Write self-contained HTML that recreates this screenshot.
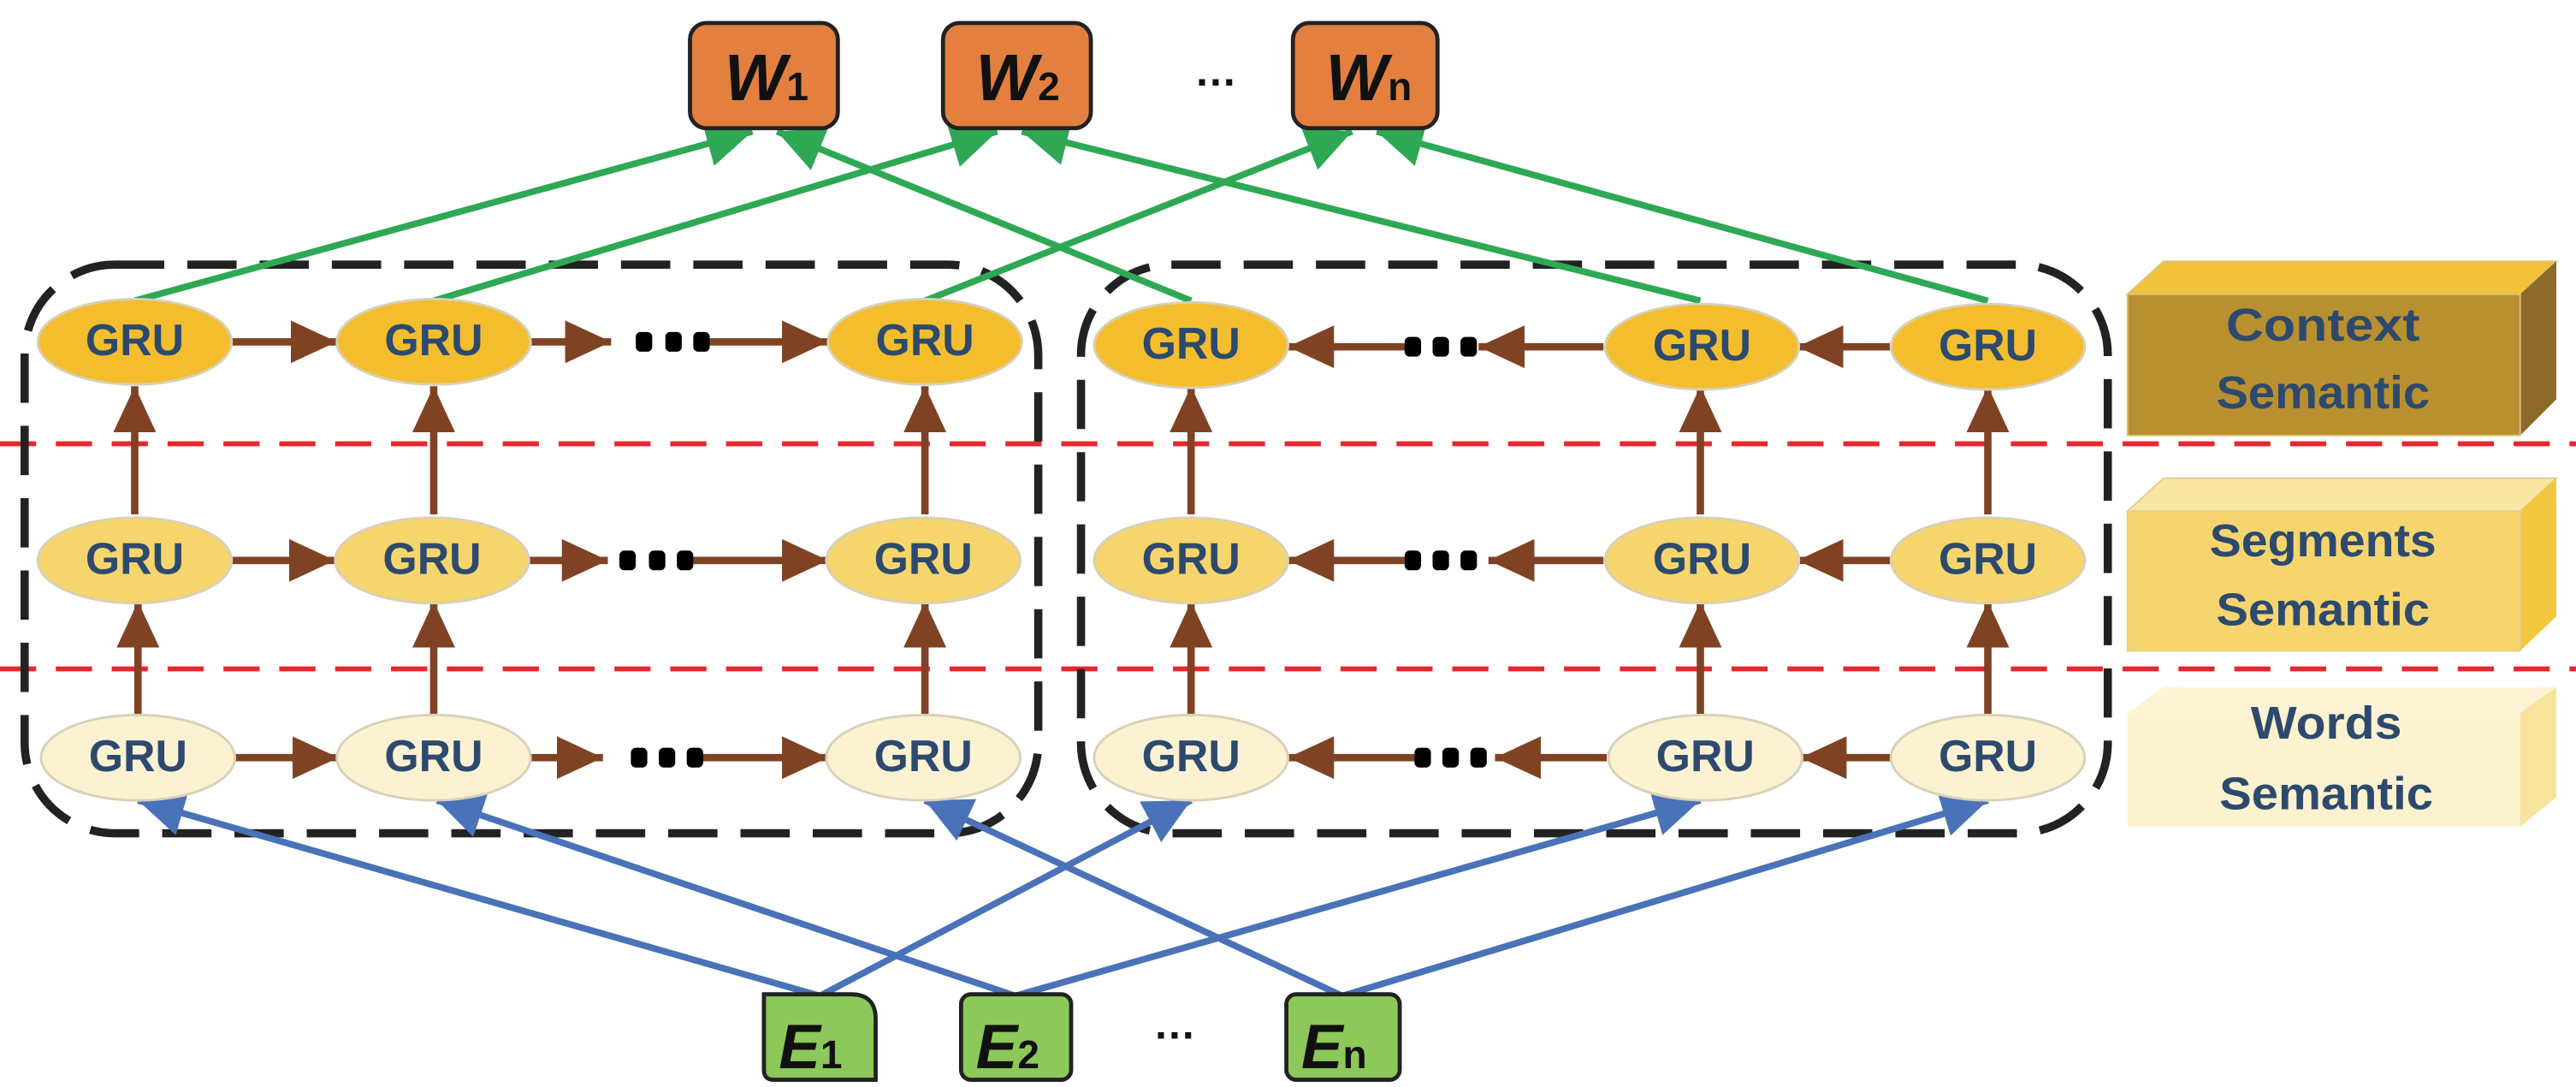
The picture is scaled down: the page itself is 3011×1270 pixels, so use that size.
<!DOCTYPE html>
<html><head><meta charset="utf-8"><style>
html,body{margin:0;padding:0;background:#fff;}
svg{display:block;}
text{font-family:"Liberation Sans",sans-serif;font-weight:bold;}
</style></head><body>
<svg width="3011" height="1270" viewBox="0 0 1568 661.4" preserveAspectRatio="none" xmlns="http://www.w3.org/2000/svg">
<defs>
<marker id="br" markerUnits="userSpaceOnUse" markerWidth="30" markerHeight="26" refX="28" refY="13" orient="auto"><path d="M0,0 L28,13 L0,26 Z" fill="#7f4324"/></marker>
<marker id="gr" markerUnits="userSpaceOnUse" markerWidth="30" markerHeight="28" refX="28" refY="14" orient="auto"><path d="M0,0 L28,14 L0,28 Z" fill="#2ea854"/></marker>
<marker id="bl" markerUnits="userSpaceOnUse" markerWidth="30" markerHeight="28" refX="28" refY="14" orient="auto"><path d="M0,0 L28,14 L0,28 Z" fill="#4a72b8"/></marker>
</defs>

<polygon points="1295,179 1317,159 1556,159 1534,179" fill="#f2c23a" stroke="#d9c27a"/>
<polygon points="1534,179 1556,159 1556,243 1534,265" fill="#8e6a2a"/>
<rect x="1295" y="179" width="239" height="86" fill="#b8902f" stroke="#d9c27a"/>
<text x="1414" y="200" font-size="28" fill="#2d4a6e" text-anchor="middle" dominant-baseline="middle" textLength="118" lengthAdjust="spacingAndGlyphs">Context</text>
<text x="1414" y="241" font-size="28" fill="#2d4a6e" text-anchor="middle" dominant-baseline="middle" textLength="130" lengthAdjust="spacingAndGlyphs">Semantic</text>

<polygon points="1295,311 1317,291 1556,291 1534,311" fill="#fae6a3" stroke="#e0d090"/>
<polygon points="1534,311 1556,291 1556,375 1534,396" fill="#f3c640"/>
<rect x="1295" y="311" width="239" height="85" fill="#f7d56e" stroke="#e0d090"/>
<text x="1414" y="331" font-size="28" fill="#2d4a6e" text-anchor="middle" dominant-baseline="middle" textLength="138" lengthAdjust="spacingAndGlyphs">Segments</text>
<text x="1414" y="373" font-size="28" fill="#2d4a6e" text-anchor="middle" dominant-baseline="middle" textLength="130" lengthAdjust="spacingAndGlyphs">Semantic</text>

<polygon points="1295,434 1317,418 1556,418 1534,434" fill="#fdf4d6"/>
<polygon points="1534,434 1556,418 1556,485 1534,503" fill="#f8e39a"/>
<rect x="1295" y="434" width="239" height="69" fill="#fcf2cf"/>
<text x="1416" y="442" font-size="28" fill="#2d4a6e" text-anchor="middle" dominant-baseline="middle" textLength="92" lengthAdjust="spacingAndGlyphs">Words</text>
<text x="1416" y="485" font-size="28" fill="#2d4a6e" text-anchor="middle" dominant-baseline="middle" textLength="130" lengthAdjust="spacingAndGlyphs">Semantic</text>

<line x1="0" y1="270" x2="1568" y2="270" stroke="#e8262b" stroke-width="3" stroke-dasharray="22,12"/>
<line x1="0" y1="407" x2="1568" y2="407" stroke="#e8262b" stroke-width="3" stroke-dasharray="22,12"/>

<rect x="15" y="161" width="617" height="346" rx="55" fill="none" stroke="#222" stroke-width="5" stroke-dasharray="30,14"/>
<rect x="658" y="161" width="625" height="346" rx="55" fill="none" stroke="#222" stroke-width="5" stroke-dasharray="30,14"/>

<g stroke="#2ea854" stroke-width="4" fill="none">
<line x1="82" y1="183" x2="458" y2="80" marker-end="url(#gr)"/>
<line x1="264" y1="183" x2="607" y2="80" marker-end="url(#gr)"/>
<line x1="563" y1="183" x2="823" y2="80" marker-end="url(#gr)"/>
<line x1="725" y1="183" x2="473" y2="80" marker-end="url(#gr)"/>
<line x1="1035" y1="183" x2="622" y2="80" marker-end="url(#gr)"/>
<line x1="1210" y1="183" x2="838" y2="80" marker-end="url(#gr)"/>
</g>

<g stroke="#4a72b8" stroke-width="4" fill="none">
<line x1="499" y1="606" x2="84" y2="487" marker-end="url(#bl)"/>
<line x1="499" y1="606" x2="725" y2="487" marker-end="url(#bl)"/>
<line x1="618" y1="606" x2="266" y2="487" marker-end="url(#bl)"/>
<line x1="618" y1="606" x2="1035" y2="487" marker-end="url(#bl)"/>
<line x1="817" y1="606" x2="563" y2="487" marker-end="url(#bl)"/>
<line x1="817" y1="606" x2="1210" y2="487" marker-end="url(#bl)"/>
</g>

<g stroke="#7f4324" stroke-width="4.5" fill="none">
<line x1="84" y1="435" x2="84" y2="366" marker-end="url(#br)"/>
<line x1="82" y1="313" x2="82" y2="235" marker-end="url(#br)"/>
<line x1="264" y1="435" x2="264" y2="366" marker-end="url(#br)"/>
<line x1="264" y1="313" x2="264" y2="235" marker-end="url(#br)"/>
<line x1="563" y1="435" x2="563" y2="366" marker-end="url(#br)"/>
<line x1="563" y1="313" x2="563" y2="235" marker-end="url(#br)"/>
<line x1="725" y1="435" x2="725" y2="366" marker-end="url(#br)"/>
<line x1="725" y1="313" x2="725" y2="235" marker-end="url(#br)"/>
<line x1="1035" y1="435" x2="1035" y2="366" marker-end="url(#br)"/>
<line x1="1035" y1="313" x2="1035" y2="235" marker-end="url(#br)"/>
<line x1="1210" y1="435" x2="1210" y2="366" marker-end="url(#br)"/>
<line x1="1210" y1="313" x2="1210" y2="235" marker-end="url(#br)"/>
</g>

<g stroke="#7f4324" stroke-width="4.5" fill="none">
<line x1="141" y1="208" x2="205" y2="208" marker-end="url(#br)"/>
<line x1="323" y1="208" x2="372" y2="208" marker-end="url(#br)"/>
<line x1="430" y1="208" x2="504" y2="208" marker-end="url(#br)"/>
<line x1="140" y1="341" x2="204" y2="341" marker-end="url(#br)"/>
<line x1="322" y1="341" x2="370" y2="341" marker-end="url(#br)"/>
<line x1="418" y1="341" x2="504" y2="341" marker-end="url(#br)"/>
<line x1="143" y1="461" x2="206" y2="461" marker-end="url(#br)"/>
<line x1="323" y1="461" x2="367" y2="461" marker-end="url(#br)"/>
<line x1="425" y1="461" x2="504" y2="461" marker-end="url(#br)"/>
<line x1="1151" y1="211" x2="1094" y2="211" marker-end="url(#br)"/>
<line x1="976" y1="211" x2="900" y2="211" marker-end="url(#br)"/>
<line x1="858" y1="211" x2="784" y2="211" marker-end="url(#br)"/>
<line x1="1151" y1="341" x2="1094" y2="341" marker-end="url(#br)"/>
<line x1="976" y1="341" x2="906" y2="341" marker-end="url(#br)"/>
<line x1="858" y1="341" x2="784" y2="341" marker-end="url(#br)"/>
<line x1="1151" y1="461" x2="1096" y2="461" marker-end="url(#br)"/>
<line x1="978" y1="461" x2="910" y2="461" marker-end="url(#br)"/>
<line x1="862" y1="461" x2="784" y2="461" marker-end="url(#br)"/>
</g>

<g fill="#000">
<rect x="387" y="202" width="10" height="12" rx="3"/><rect x="405" y="202" width="10" height="12" rx="3"/><rect x="422" y="202" width="10" height="12" rx="3"/>
<rect x="377" y="335" width="10" height="12" rx="3"/><rect x="395" y="335" width="10" height="12" rx="3"/><rect x="412" y="335" width="10" height="12" rx="3"/>
<rect x="384" y="455" width="10" height="12" rx="3"/><rect x="401" y="455" width="10" height="12" rx="3"/><rect x="418" y="455" width="10" height="12" rx="3"/>
<rect x="855" y="205" width="10" height="12" rx="3"/><rect x="872" y="205" width="10" height="12" rx="3"/><rect x="889" y="205" width="10" height="12" rx="3"/>
<rect x="855" y="335" width="10" height="12" rx="3"/><rect x="872" y="335" width="10" height="12" rx="3"/><rect x="889" y="335" width="10" height="12" rx="3"/>
<rect x="861" y="455" width="10" height="12" rx="3"/><rect x="878" y="455" width="10" height="12" rx="3"/><rect x="895" y="455" width="10" height="12" rx="3"/>
</g>

<g stroke="#d8d0b8" stroke-width="1.5">
<g fill="#f3bd2e">
<ellipse cx="82" cy="208" rx="59" ry="26"/><ellipse cx="264" cy="208" rx="59" ry="26"/><ellipse cx="563" cy="208" rx="59" ry="26"/>
<ellipse cx="725" cy="210" rx="59" ry="26"/><ellipse cx="1036" cy="211" rx="59" ry="26"/><ellipse cx="1210" cy="211" rx="59" ry="26"/>
</g>
<g fill="#f6d56c">
<ellipse cx="82" cy="341" rx="59" ry="26"/><ellipse cx="263" cy="341" rx="59" ry="26"/><ellipse cx="562" cy="341" rx="59" ry="26"/>
<ellipse cx="725" cy="341" rx="59" ry="26"/><ellipse cx="1036" cy="341" rx="59" ry="26"/><ellipse cx="1210" cy="341" rx="59" ry="26"/>
</g>
<g fill="#fcf2d2">
<ellipse cx="84" cy="461" rx="59" ry="26"/><ellipse cx="264" cy="461" rx="59" ry="26"/><ellipse cx="562" cy="461" rx="59" ry="26"/>
<ellipse cx="725" cy="461" rx="59" ry="26"/><ellipse cx="1038" cy="461" rx="59" ry="26"/><ellipse cx="1210" cy="461" rx="59" ry="26"/>
</g>
</g>
<g font-size="27" fill="#2d4a6e" text-anchor="middle" dominant-baseline="middle">
<text x="82" y="209">GRU</text><text x="264" y="209">GRU</text><text x="563" y="209">GRU</text>
<text x="725" y="211">GRU</text><text x="1036" y="212">GRU</text><text x="1210" y="212">GRU</text>
<text x="82" y="342">GRU</text><text x="263" y="342">GRU</text><text x="562" y="342">GRU</text>
<text x="725" y="342">GRU</text><text x="1036" y="342">GRU</text><text x="1210" y="342">GRU</text>
<text x="84" y="462">GRU</text><text x="264" y="462">GRU</text><text x="562" y="462">GRU</text>
<text x="725" y="462">GRU</text><text x="1038" y="462">GRU</text><text x="1210" y="462">GRU</text>
</g>

<g stroke="#222" stroke-width="2.5" fill="#e3803f">
<rect x="420" y="14" width="90" height="64" rx="10"/>
<rect x="574" y="14" width="90" height="64" rx="10"/>
<rect x="787" y="14" width="88" height="64" rx="10"/>
</g>
<g fill="#111">
<text x="441" y="61" font-size="40" font-style="italic">W<tspan font-size="24" font-style="normal">1</tspan></text>
<text x="594" y="61" font-size="40" font-style="italic">W<tspan font-size="24" font-style="normal">2</tspan></text>
<text x="807" y="61" font-size="40" font-style="italic">W<tspan font-size="24" font-style="normal">n</tspan></text>
<text x="740" y="52" font-size="26" text-anchor="middle">…</text>
</g>

<g stroke="#222" stroke-width="2.5" fill="#8dc85a">
<path d="M465,605 H518 Q533,605 533,620 V657 H471 Q465,657 465,651 Z"/>
<rect x="585" y="605" width="67" height="52" rx="6"/>
<rect x="783" y="605" width="69" height="52" rx="6"/>
</g>
<g fill="#111">
<text x="474" y="650" font-size="38" font-style="italic">E<tspan font-size="24" font-style="normal">1</tspan></text>
<text x="594" y="650" font-size="38" font-style="italic">E<tspan font-size="24" font-style="normal">2</tspan></text>
<text x="792" y="650" font-size="38" font-style="italic">E<tspan font-size="24" font-style="normal">n</tspan></text>
<text x="715" y="632" font-size="26" text-anchor="middle">…</text>
</g>
</svg>
</body></html>
